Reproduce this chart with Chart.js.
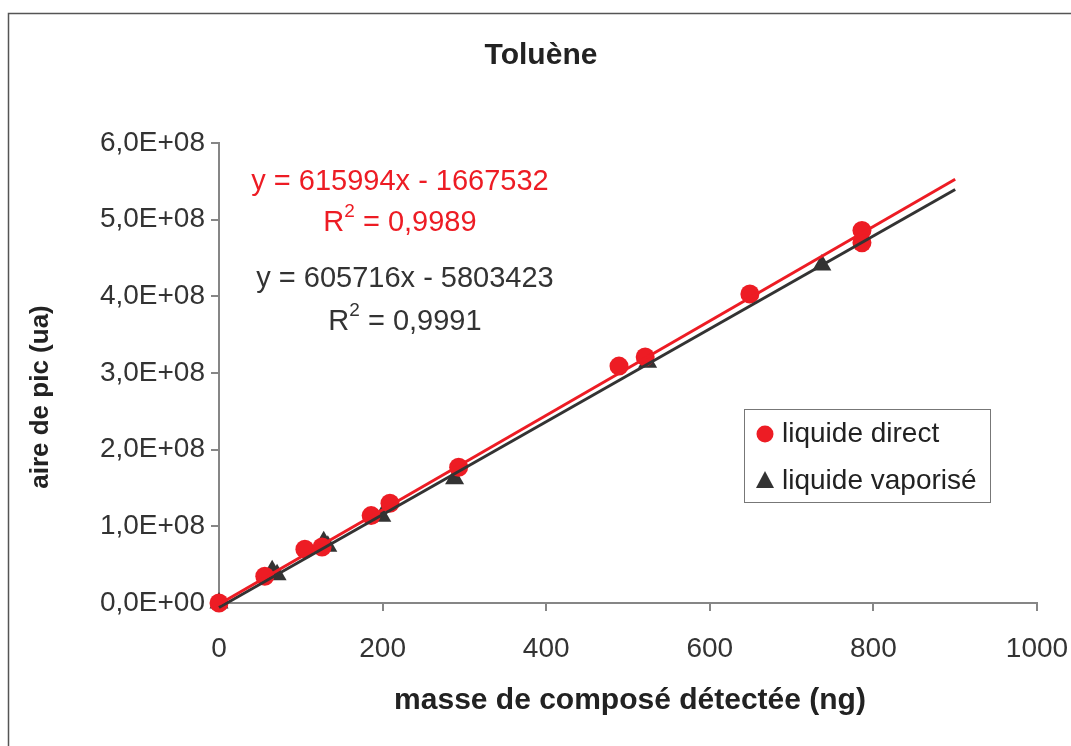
<!DOCTYPE html>
<html>
<head>
<meta charset="utf-8">
<script src="https://cdn.jsdelivr.net/npm/chart.js@4.4.1/dist/chart.umd.min.js"></script>
<style>
  html, body { margin: 0; padding: 0; background: #fff; }
  #wrap { position: relative; width: 1071px; height: 746px; }
</style>
</head>
<body>
<div id="wrap"><canvas id="c" width="1071" height="746"></canvas></div>
<script>
// ---- data ----
const chartTitle = 'Toluène';
const xAxisTitle = 'masse de composé détectée (ng)';
const yAxisTitle = 'aire de pic (ua)';
const seriesNames = ['liquide direct', 'liquide vaporisé'];

const directX = [0, 56, 105, 126, 186, 209, 293, 489, 521, 649, 786, 786];
const directY = [0, 0.35e8, 0.70e8, 0.73e8, 1.14e8, 1.30e8, 1.77e8, 3.09e8, 3.21e8, 4.03e8, 4.86e8, 4.70e8];

const vaporX = [0, 65, 71, 128, 133, 199, 288, 524, 737];
const vaporY = [0, 0.42e8, 0.37e8, 0.80e8, 0.74e8, 1.13e8, 1.62e8, 3.14e8, 4.41e8];

// trendline end points (x = 0 and x = 900), as drawn in the picture
const trendDirectX = [0, 900];
const trendDirectY = [-1.7e6, 5.527e8];
const trendVaporX = [0, 900];
const trendVaporY = [-5.8e6, 5.393e8];

const eqDirect = ['y = 615994x - 1667532', '0,9989'];
const eqVapor = ['y = 605716x - 5803423', '0,9991'];

const xTickLabels = ['0', '200', '400', '600', '800', '1000'];
const yTickLabels = ['0,0E+00', '1,0E+08', '2,0E+08', '3,0E+08', '4,0E+08', '5,0E+08', '6,0E+08'];

// ---- styling ----
const RED = '#ED1C24';
const DARK = '#333333';
const AXIS = '#868686';
const FONT = "'Liberation Sans', Arial, sans-serif";

const pts = (xs, ys) => xs.map((x, i) => ({ x: x, y: ys[i] }));

const decorPlugin = {
  id: 'decor',
  afterDraw(chart) {
    const ctx = chart.ctx;
    const ca = chart.chartArea;
    ctx.save();
    // outer frame
    ctx.strokeStyle = '#555';
    ctx.lineWidth = 1.5;
    ctx.beginPath();
    ctx.moveTo(8.5, 760);
    ctx.lineTo(8.5, 13.5);
    ctx.lineTo(1080, 13.5);
    ctx.stroke();

    // title
    ctx.fillStyle = '#222';
    ctx.font = 'bold 30px ' + FONT;
    ctx.textAlign = 'center';
    ctx.textBaseline = 'middle';
    ctx.fillText(chartTitle, 541, 56);

    // x axis title
    ctx.font = 'bold 30px ' + FONT;
    ctx.fillText(xAxisTitle, (ca.left + ca.right) / 2 + 2, 701);

    // y axis title
    ctx.save();
    ctx.translate(41, 397);
    ctx.rotate(-Math.PI / 2);
    ctx.font = 'bold 26px ' + FONT;
    ctx.fillText(yAxisTitle, 0, 0);
    ctx.restore();

    // equations
    function eq(lines, color, cx, y1, y2) {
      ctx.fillStyle = color;
      ctx.font = '29px ' + FONT;
      ctx.textAlign = 'center';
      ctx.textBaseline = 'middle';
      ctx.fillText(lines[0], cx, y1);
      const rest = ' = ' + lines[1];
      ctx.font = '29px ' + FONT;
      const wR = ctx.measureText('R').width;
      const wRest = ctx.measureText(rest).width;
      ctx.font = '19px ' + FONT;
      const w2 = ctx.measureText('2').width;
      const total = wR + w2 + wRest;
      let x = cx - total / 2;
      ctx.textAlign = 'left';
      ctx.font = '29px ' + FONT;
      ctx.fillText('R', x, y2);
      x += wR;
      ctx.font = '19px ' + FONT;
      ctx.fillText('2', x, y2 - 11);
      x += w2;
      ctx.font = '29px ' + FONT;
      ctx.fillText(rest, x, y2);
    }
    eq(eqDirect, RED, 400, 182, 223);
    eq(eqVapor, DARK, 405, 279, 322);

    // legend
    const lx = 744, ly = 409, lw = 246, lh = 93;
    ctx.strokeStyle = '#777';
    ctx.lineWidth = 1;
    ctx.strokeRect(lx + 0.5, ly + 0.5, lw, lh);
    ctx.fillStyle = RED;
    ctx.beginPath();
    ctx.arc(765, 434, 8.5, 0, Math.PI * 2);
    ctx.fill();
    ctx.fillStyle = DARK;
    ctx.beginPath();
    ctx.moveTo(765, 471);
    ctx.lineTo(774, 488);
    ctx.lineTo(756, 488);
    ctx.closePath();
    ctx.fill();
    ctx.fillStyle = '#222';
    ctx.font = '28px ' + FONT;
    ctx.textAlign = 'left';
    ctx.textBaseline = 'middle';
    ctx.fillText(seriesNames[0], 782, 434);
    ctx.fillText(seriesNames[1], 782, 481);
    ctx.restore();
  }
};

new Chart(document.getElementById('c'), {
  type: 'scatter',
  data: {
    datasets: [
      {
        label: 'trend ' + seriesNames[0],
        type: 'line',
        data: pts(trendDirectX, trendDirectY),
        borderColor: RED,
        borderWidth: 3,
        pointRadius: 0,
        fill: false,
        clip: false,
        order: 0
      },
      {
        label: 'trend ' + seriesNames[1],
        type: 'line',
        data: pts(trendVaporX, trendVaporY),
        borderColor: DARK,
        borderWidth: 3,
        pointRadius: 0,
        fill: false,
        clip: false,
        order: 0
      },
      {
        label: seriesNames[0],
        data: pts(directX, directY),
        pointStyle: 'circle',
        pointRadius: 9.5,
        pointHoverRadius: 9.5,
        backgroundColor: RED,
        borderWidth: 0,
        clip: false,
        order: 1
      },
      {
        label: seriesNames[1],
        data: pts(vaporX, vaporY),
        pointStyle: 'triangle',
        pointRadius: 11,
        pointHoverRadius: 11,
        backgroundColor: DARK,
        borderColor: DARK,
        borderWidth: 0,
        clip: false,
        order: 2
      }
    ]
  },
  options: {
    responsive: false,
    animation: false,
    events: [],
    layout: { padding: { left: 0, top: 143, right: 34, bottom: 0 } },
    plugins: {
      legend: { display: false },
      title: { display: false },
      tooltip: { enabled: false }
    },
    scales: {
      x: {
        type: 'linear',
        min: 0, max: 1000,
        afterFit(scale) { scale.height = 143; scale.paddingLeft = 0; scale.paddingRight = 0; },
        ticks: {
          stepSize: 200,
          color: '#333',
          font: { family: FONT, size: 28 },
          padding: 21,
          maxRotation: 0,
          callback: (v, i) => xTickLabels[i]
        },
        grid: { drawOnChartArea: false, drawTicks: true, tickLength: 8, color: AXIS, lineWidth: 2 },
        border: { display: true, color: AXIS, width: 2 }
      },
      y: {
        type: 'linear',
        min: 0, max: 6e8,
        afterFit(scale) { scale.width = 219; scale.paddingTop = 0; scale.paddingBottom = 0; },
        ticks: {
          stepSize: 1e8,
          color: '#333',
          font: { family: FONT, size: 28 },
          padding: 6,
          callback: (v, i) => yTickLabels[i]
        },
        grid: { drawOnChartArea: false, drawTicks: true, tickLength: 8, color: AXIS, lineWidth: 2 },
        border: { display: true, color: AXIS, width: 2 }
      }
    }
  },
  plugins: [decorPlugin]
});
</script>
</body>
</html>
